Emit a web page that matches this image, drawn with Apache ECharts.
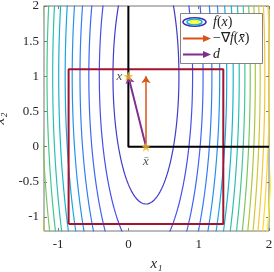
<!DOCTYPE html>
<html><head><meta charset="utf-8">
<script src="https://cdn.jsdelivr.net/npm/echarts@6/dist/echarts.min.js"></script>
<style>html,body{margin:0;padding:0;background:#fff}#c{width:274px;height:272px}</style>
</head><body><div id="c"></div>
<script>
// ---- data ----
const xTicks = [-1, 0, 1, 2];
const yTicks = [-1, -0.5, 0, 0.5, 1, 1.5, 2];
const xRange = [-1.2, 2];
const yRange = [-1.2, 2];
const xBar = [0.25, 0];          // \bar x
const xNew = [0, 1];             // x
const negGrad = [0, 1];          // -grad f(\bar x)
const fCenter = [0.25, 1];       // minimiser of quadratic f
const fHessDiag = [15, 1];       // diagonal Hessian of f
const contourLevels = [1.65, 3.3, 4.95, 6.6, 8.25, 9.9, 11.55, 13.2, 14.85, 16.5, 18.15, 19.8, 21.45, 23.1, 24.75];
const colorRange = [0, 25.4];
const boxRadius = 1.1;
const boundary = [[0, 2], [0, 0], [2, 0]];

// ---- helpers ----
const parulaStops = [[0.2422,0.1504,0.6603],[0.2810,0.3228,0.9579],[0.1786,0.5289,0.9682],[0.0689,0.6948,0.8394],[0.2161,0.7843,0.5923],[0.6720,0.7793,0.2227],[0.9970,0.7659,0.2199],[0.9769,0.9839,0.0805]];
function parula(t) {
  t = Math.max(0, Math.min(1, t));
  const p = t * (parulaStops.length - 1);
  const i = Math.min(Math.floor(p), parulaStops.length - 2);
  const f = p - i;
  const a = parulaStops[i], b = parulaStops[i + 1];
  const c = a.map((v, k) => Math.round(255 * (v + (b[k] - v) * f)));
  return 'rgb(' + c.join(',') + ')';
}
function contourPoints(L) {
  const rx = Math.sqrt(2 * L / fHessDiag[0]);
  const ry = Math.sqrt(2 * L / fHessDiag[1]);
  const pts = [];
  for (let k = 0; k <= 360; k++) {
    const t = k / 360 * 2 * Math.PI;
    pts.push([fCenter[0] + rx * Math.cos(t), fCenter[1] + ry * Math.sin(t)]);
  }
  return pts;
}
const FONT = 'Liberation Serif';
const starPath = 'path://M0,-10L2.35,-3.24L9.51,-3.09L3.8,1.24L5.88,8.09L0,4L-5.88,8.09L-3.8,1.24L-9.51,-3.09L-2.35,-3.24Z';

const series = [];
contourLevels.forEach(L => {
  series.push({
    type: 'line', data: contourPoints(L), showSymbol: false, silent: true,
    lineStyle: { color: parula((L - colorRange[0]) / (colorRange[1] - colorRange[0])), width: 1.2 },
    z: 1, animation: false
  });
});
const box = [
  [xBar[0] - boxRadius, xBar[1] - boxRadius], [xBar[0] + boxRadius, xBar[1] - boxRadius],
  [xBar[0] + boxRadius, xBar[1] + boxRadius], [xBar[0] - boxRadius, xBar[1] + boxRadius],
  [xBar[0] - boxRadius, xBar[1] - boxRadius]
];
series.push({ type: 'line', data: box, showSymbol: false, lineStyle: { color: '#A2142F', width: 2 }, z: 2, animation: false });
series.push({ type: 'line', data: boundary, showSymbol: false, lineStyle: { color: '#000', width: 2 }, z: 3, animation: false });
series.push({
  type: 'lines', coordinateSystem: 'cartesian2d', z: 4, animation: false,
  symbol: ['none', 'arrow'], symbolSize: 7,
  data: [
    { coords: [xBar, [xBar[0] + negGrad[0], xBar[1] + negGrad[1]]], lineStyle: { color: '#D95319', width: 1.5, opacity: 1 } },
    { coords: [xBar, xNew], lineStyle: { color: '#7E2F8E', width: 2, opacity: 1 } }
  ]
});
series.push({
  type: 'scatter', symbol: starPath, symbolSize: 10, z: 5, animation: false,
  itemStyle: { color: '#EDB120' },
  label: { show: true, fontFamily: FONT, fontSize: 13, fontStyle: 'italic', color: '#222' },
  data: [
    { value: xBar, label: { formatter: 'x\u0304', position: 'bottom', distance: 3 } },
    { value: xNew, label: { formatter: 'x', position: 'left', distance: 1 } }
  ]
});

const axisCommon = {
  type: 'value', splitLine: { show: false }, axisLine: { show: false, onZero: false },
  axisTick: { inside: true, length: 3, lineStyle: { color: '#777' } }
};
const labelStyle = { fontFamily: FONT, fontSize: 13, color: '#262626' };
const nameStyle = { fontFamily: FONT, fontSize: 15, fontStyle: 'italic', color: '#262626' };

const chart = echarts.init(document.getElementById('c'), null, { renderer: 'canvas' });
chart.setOption({
  animation: false,
  grid: { left: 44, top: 6, width: 225, height: 225, show: true, borderColor: '#777', borderWidth: 1, backgroundColor: 'transparent', containLabel: false, outerBoundsMode: 'none' },
  xAxis: [
    Object.assign({}, axisCommon, { min: xRange[0], max: xRange[1], position: 'bottom',
      axisTick: Object.assign({}, axisCommon.axisTick, { customValues: xTicks }),
      axisLabel: Object.assign({ customValues: xTicks, margin: 7 }, labelStyle),
      name: 'x\u2081', nameLocation: 'middle', nameGap: 26, nameTextStyle: nameStyle }),
    Object.assign({}, axisCommon, { min: xRange[0], max: xRange[1], position: 'top',
      axisTick: Object.assign({}, axisCommon.axisTick, { customValues: xTicks }),
      axisLabel: { show: false } })
  ],
  yAxis: [
    Object.assign({}, axisCommon, { min: yRange[0], max: yRange[1], position: 'left',
      axisTick: Object.assign({}, axisCommon.axisTick, { customValues: yTicks }),
      axisLabel: Object.assign({ customValues: yTicks, margin: 5 }, labelStyle),
      name: 'x\u2082', nameLocation: 'middle', nameGap: 30, nameRotate: 90, nameTextStyle: nameStyle }),
    Object.assign({}, axisCommon, { min: yRange[0], max: yRange[1], position: 'right',
      axisTick: Object.assign({}, axisCommon.axisTick, { customValues: yTicks }),
      axisLabel: { show: false } })
  ],
  series: series,
  graphic: [
    { type: 'rect', z: 100, shape: { x: 180.5, y: 13.5, width: 82, height: 50 }, style: { fill: '#fff', stroke: '#666', lineWidth: 0.8 } },
    { type: 'ellipse', z: 101, shape: { cx: 194.5, cy: 22, rx: 11.5, ry: 4.3 }, style: { fill: 'none', stroke: parula(0.03), lineWidth: 1.6 } },
    { type: 'ellipse', z: 101, shape: { cx: 194.5, cy: 22, rx: 7.5, ry: 2.8 }, style: { fill: 'none', stroke: parula(0.45), lineWidth: 1.6 } },
    { type: 'ellipse', z: 101, shape: { cx: 194.5, cy: 22, rx: 4, ry: 1.4 }, style: { fill: 'none', stroke: parula(1), lineWidth: 1.6 } },
    { type: 'line', z: 101, shape: { x1: 183, y1: 38.5, x2: 205, y2: 38.5 }, style: { stroke: '#D95319', lineWidth: 2 } },
    { type: 'polygon', z: 101, shape: { points: [[203, 35], [211, 38.5], [203, 42]] }, style: { fill: '#D95319' } },
    { type: 'line', z: 101, shape: { x1: 183, y1: 54.5, x2: 205, y2: 54.5 }, style: { stroke: '#7E2F8E', lineWidth: 2 } },
    { type: 'polygon', z: 101, shape: { points: [[203, 51], [211, 54.5], [203, 58]] }, style: { fill: '#7E2F8E' } },
    { type: 'text', z: 101, style: { x: 213, y: 22, text: '{i|f}({i|x})', verticalAlign: 'middle', font: '14px "Liberation Serif"', fill: '#222',
        rich: { i: { fontStyle: 'italic', fontFamily: FONT, fontSize: 14 } } } },
    { type: 'text', z: 101, style: { x: 213, y: 38.5, text: '\u2212\u2207{i|f}({i|x\u0304})', verticalAlign: 'middle', font: '14px "Liberation Serif"', fill: '#222',
        rich: { i: { fontStyle: 'italic', fontFamily: FONT, fontSize: 14 } } } },
    { type: 'text', z: 101, style: { x: 213, y: 54.5, text: '{i|d}', verticalAlign: 'middle', font: '14px "Liberation Serif"', fill: '#222',
        rich: { i: { fontStyle: 'italic', fontFamily: FONT, fontSize: 14 } } } }
  ]
});
</script></body></html>
